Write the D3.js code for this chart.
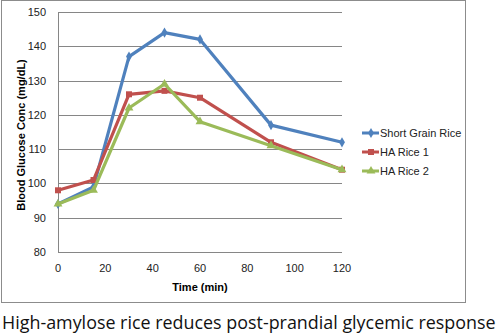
<!DOCTYPE html>
<html>
<head>
<meta charset="utf-8">
<script src="https://cdn.jsdelivr.net/npm/d3@7"></script>
<style>
  body { margin: 0; background: #fff; }
  svg { display: block; }
</style>
</head>
<body>
<svg width="500" height="336"></svg>
<script>
let width = 500, height = 336;

// data
let times = [0, 15, 30, 45, 60, 90, 120];
let shortGrain = [94, 99, 137, 144, 142, 117, 112];
let haRice1 = [98, 101, 126, 127, 125, 112, 104];
let haRice2 = [94, 98, 122, 129, 118, 111, 104];
let seriesNames = ["Short Grain Rice", "HA Rice 1", "HA Rice 2"];
let seriesColors = ["#4F81BD", "#C0504D", "#9BBB59"];
let yTicks = [80, 90, 100, 110, 120, 130, 140, 150];
let xTicks = [0, 20, 40, 60, 80, 100, 120];

let svg = d3.select("svg");
let font = "Liberation Sans, Arial, sans-serif";

// outer chart border
svg.append("rect")
    .attr("x", 1.5).attr("y", 0.5)
    .attr("width", 464).attr("height", 302)
    .attr("fill", "none")
    .attr("stroke", "#8c8c8c")
    .attr("stroke-width", 1);

let x = d3.scaleLinear().domain([0, 120]).range([58, 342]);
let y = d3.scaleLinear().domain([80, 150]).range([252, 12]);

// gridlines
svg.append("g")
    .selectAll("line")
    .data(yTicks)
    .enter()
    .append("line")
    .attr("x1", x(0)).attr("x2", x(120))
    .attr("y1", d => Math.round(y(d)) + 0.5)
    .attr("y2", d => Math.round(y(d)) + 0.5)
    .attr("stroke", "#868686")
    .attr("stroke-width", 1);

// y axis line
svg.append("line")
    .attr("x1", x(0) + 0.5).attr("x2", x(0) + 0.5)
    .attr("y1", y(150)).attr("y2", y(80))
    .attr("stroke", "#868686");

// tick labels
svg.append("g")
    .selectAll("text")
    .data(yTicks)
    .enter()
    .append("text")
    .attr("x", 46)
    .attr("y", d => y(d) + 4)
    .attr("text-anchor", "end")
    .attr("font-family", font)
    .attr("font-size", 11)
    .attr("fill", "#222")
    .text(d => d);

svg.append("g")
    .selectAll("text")
    .data(xTicks)
    .enter()
    .append("text")
    .attr("x", d => x(d))
    .attr("y", 272)
    .attr("text-anchor", "middle")
    .attr("font-family", font)
    .attr("font-size", 11)
    .attr("fill", "#222")
    .text(d => d);

// axis titles
svg.append("text")
    .attr("x", 200).attr("y", 291)
    .attr("text-anchor", "middle")
    .attr("font-family", font)
    .attr("font-size", 11)
    .attr("font-weight", "bold")
    .text("Time (min)");

svg.append("text")
    .attr("transform", "translate(25,135) rotate(-90)")
    .attr("text-anchor", "middle")
    .attr("font-family", font)
    .attr("font-size", 11)
    .attr("font-weight", "bold")
    .text("Blood Glucose Conc (mg/dL)");

// series
let allSeries = [shortGrain, haRice1, haRice2];
let line = d3.line()
    .x((d, i) => x(times[i]))
    .y(d => y(d));

let symbols = [d3.symbolDiamond, d3.symbolSquare, d3.symbolTriangle];
let symSizes = [30, 36, 34];

allSeries.forEach((vals, k) => {
    svg.append("path")
        .datum(vals)
        .attr("fill", "none")
        .attr("stroke", seriesColors[k])
        .attr("stroke-width", 3.2)
        .attr("stroke-linejoin", "round")
        .attr("d", line);

    svg.append("g")
        .selectAll("path")
        .data(vals)
        .enter()
        .append("path")
        .attr("transform", (d, i) => `translate(${x(times[i])},${y(d)})`)
        .attr("d", d3.symbol().type(symbols[k]).size(symSizes[k]))
        .attr("fill", seriesColors[k]);
});

// legend
let legend = svg.append("g")
    .selectAll("g")
    .data(seriesNames)
    .enter()
    .append("g")
    .attr("transform", (d, i) => `translate(362,${133 + i * 19})`);

legend.append("line")
    .attr("x1", 0).attr("x2", 17)
    .attr("stroke", (d, i) => seriesColors[i])
    .attr("stroke-width", 3);

legend.append("path")
    .attr("transform", "translate(9,0)")
    .attr("d", (d, i) => d3.symbol().type(symbols[i]).size(symSizes[i])())
    .attr("fill", (d, i) => seriesColors[i]);

legend.append("text")
    .attr("x", 18).attr("y", 4)
    .attr("font-family", font)
    .attr("font-size", 11)
    .attr("fill", "#222")
    .text(d => d);

// caption
svg.append("text")
    .attr("x", 2).attr("y", 329)
    .attr("font-family", "Open Sans, sans-serif")
    .attr("font-size", 17.9)
    .attr("fill", "#111")
    .text("High-amylose rice reduces post-prandial glycemic response");
</script>
</body>
</html>
